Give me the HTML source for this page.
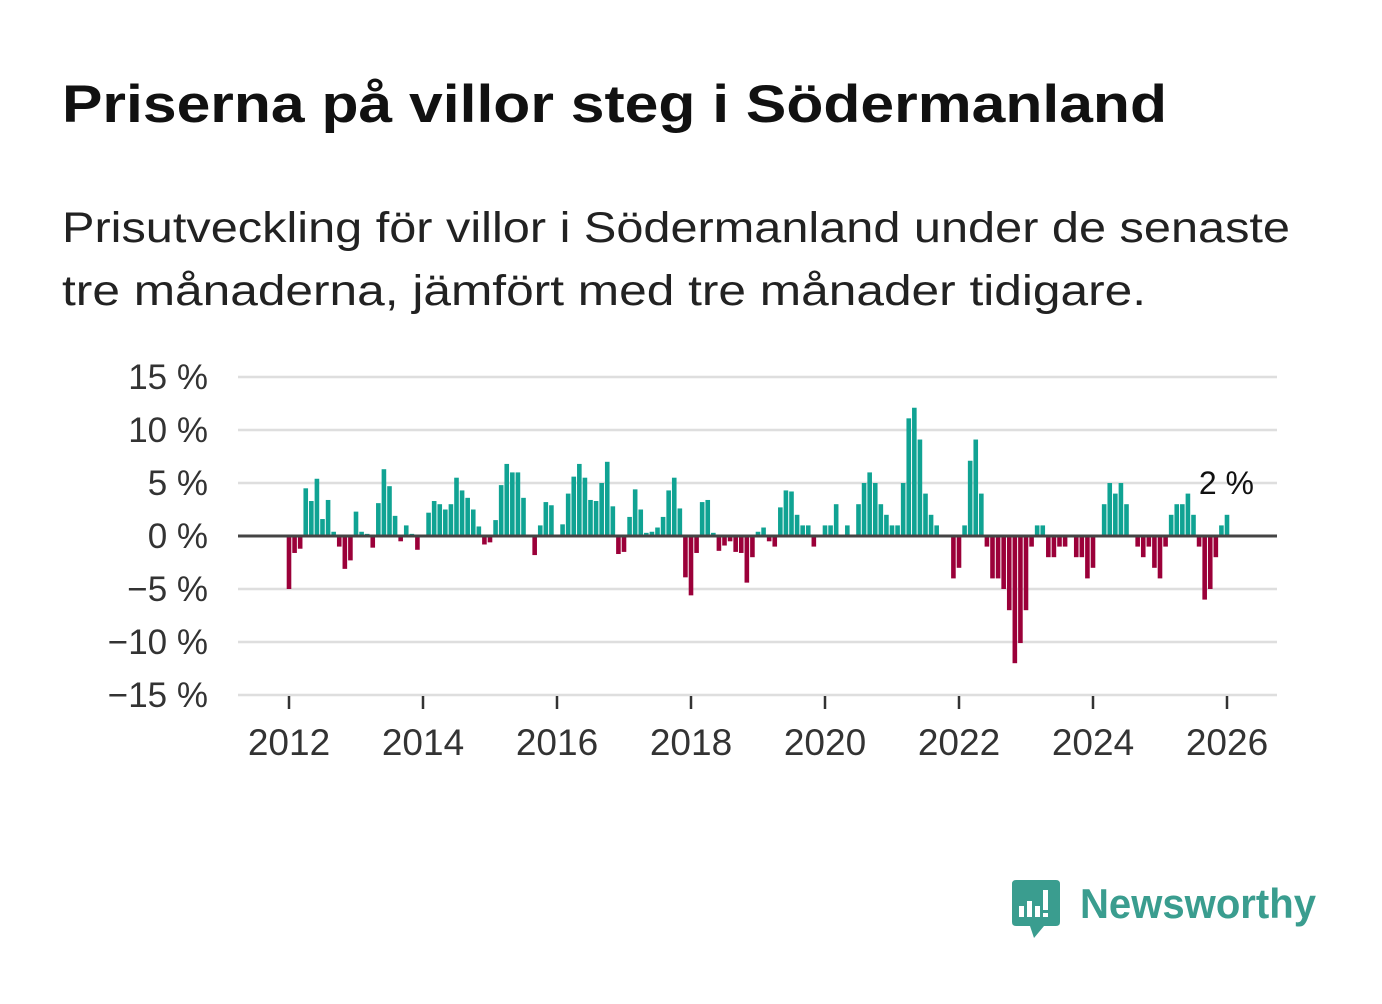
<!DOCTYPE html>
<html><head><meta charset="utf-8">
<style>
html,body{margin:0;padding:0;background:#fff;}
body{width:1382px;height:999px;overflow:hidden;font-family:"Liberation Sans","DejaVu Sans",sans-serif;}
</style></head>
<body>
<svg id="chart" width="1382" height="999" viewBox="0 0 1382 999" xmlns="http://www.w3.org/2000/svg">
<text x="62" y="122" font-family="Liberation Sans, sans-serif" font-weight="bold" font-size="53" fill="#111" textLength="1105" lengthAdjust="spacingAndGlyphs">Priserna på villor steg i Södermanland</text>
<text x="62" y="242" font-family="Liberation Sans, sans-serif" font-size="43" fill="#222" textLength="1228" lengthAdjust="spacingAndGlyphs">Prisutveckling för villor i Södermanland under de senaste</text>
<text x="62" y="305" font-family="Liberation Sans, sans-serif" font-size="43" fill="#222" textLength="1084" lengthAdjust="spacingAndGlyphs">tre månaderna, jämfört med tre månader tidigare.</text>
<g id="grid"></g>
<g id="bars"></g>
<g id="axes"></g>
<g>
<path d="M1016 880 H1056 Q1060 880 1060 884 V922 Q1060 926 1056 926 H1044 L1034 938 L1030 926 H1016 Q1012 926 1012 922 V884 Q1012 880 1016 880 Z" fill="#3a9d8f"/>
<rect x="1019" y="906" width="5" height="11" fill="#fff"/>
<rect x="1027" y="901" width="5" height="16" fill="#fff"/>
<rect x="1035" y="906" width="5" height="11" fill="#fff"/>
<rect x="1043" y="890" width="5" height="20" fill="#fff"/>
<rect x="1043" y="913" width="5" height="4" fill="#fff"/>
<text x="1080" y="918" font-family="Liberation Sans, sans-serif" font-weight="bold" font-size="42" fill="#3a9d8f" textLength="236" lengthAdjust="spacingAndGlyphs">Newsworthy</text>
</g>
</svg>
<script>
const values = [-5,-1.6,-1.2,4.5,3.3,5.4,1.6,3.4,0.4,-1,-3.1,-2.3,
2.3,0.4,0.2,-1.1,3.1,6.3,4.7,1.9,-0.5,1,0.2,-1.3,
0,2.2,3.3,3,2.5,3,5.5,4.3,3.6,2.5,0.9,-0.8,
-0.6,1.5,4.8,6.8,6,6,3.6,0,-1.8,1,3.2,2.9,
0,1.1,4,5.6,6.8,5.5,3.4,3.3,5,7,2.8,-1.7,
-1.5,1.8,4.4,2.5,0.3,0.4,0.8,1.8,4.3,5.5,2.6,-3.9,
-5.6,-1.6,3.2,3.4,0.3,-1.4,-0.9,-0.5,-1.5,-1.6,-4.4,-2,
0.4,0.8,-0.5,-1,2.7,4.3,4.2,2,1,1,-1,0,
1,1,3,0,1,0,3,5,6,5,3,2,
1,1,5,11.1,12.1,9.1,4,2,1,0,0,-4,
-3,1,7.1,9.1,4,-1,-4,-4,-5,-7,-12,-10.1,
-7,-1,1,1,-2,-2,-1,-1,0,-2,-2,-4,
-3,0,3,5,4,5,3,0,-1,-2,-1,-3,
-4,-1,2,3,3,4,2,-1,-6,-5,-2,1,
2];
const yTicks = [15,10,5,0,-5,-10,-15];
const yTickLabels = ["15 %","10 %","5 %","0 %","\u22125 %","\u221210 %","\u221215 %"];
const xTicks = [2012,2014,2016,2018,2020,2022,2024,2026];
const startYear = 2012;
const lastLabel = "2 %";

const NS="http://www.w3.org/2000/svg";
const y = v => 536 - v*10.6;
const x = m => 289 + m*(938/168);
const yearX = yr => x((yr-startYear)*12);
function mk(tag, attrs, parent, text){const e=document.createElementNS(NS,tag);for(const k in attrs)e.setAttribute(k,attrs[k]);if(text!==undefined)e.textContent=text;parent.appendChild(e);return e;}
const grid=document.getElementById('grid'), bars=document.getElementById('bars'), axes=document.getElementById('axes');
yTicks.forEach((t,i)=>{
  if(t!==0){const l=mk('line',{x1:238,x2:1277,y1:y(t),y2:y(t),stroke:'#dedede','stroke-width':2.5},grid);
  
  }
  const tx=mk('text',{x:208,y:y(t)+12,'text-anchor':'end','font-size':35,fill:'#333','font-family':'Liberation Sans, sans-serif'},axes,yTickLabels[i]);
  
  
});
values.forEach((v,i)=>{
  if(v===0)return;
  const r=mk('rect',{x:x(i)-2.3,width:4.6,y:Math.min(y(v),y(0)),height:Math.abs(y(v)-y(0)),fill:v>0?'#10a393':'#9b0039'},bars);
  
  
});
const z=mk('line',{x1:238,x2:1277,y1:y(0),y2:y(0),stroke:'#444','stroke-width':3},axes);


xTicks.forEach(yr=>{
  const tk=mk('line',{x1:yearX(yr),x2:yearX(yr),y1:696,y2:709,stroke:'#333','stroke-width':2.5},axes);
  
  
  const tl=mk('text',{x:yearX(yr),y:755,'text-anchor':'middle','font-size':37,fill:'#333','font-family':'Liberation Sans, sans-serif'},axes,String(yr));
  
  
});
const last=values.length-1;
const lab=mk('text',{x:x(last)+27,y:494,'text-anchor':'end','font-size':32,fill:'#111','font-family':'Liberation Sans, sans-serif'},axes,lastLabel);


</script>
</body></html>
